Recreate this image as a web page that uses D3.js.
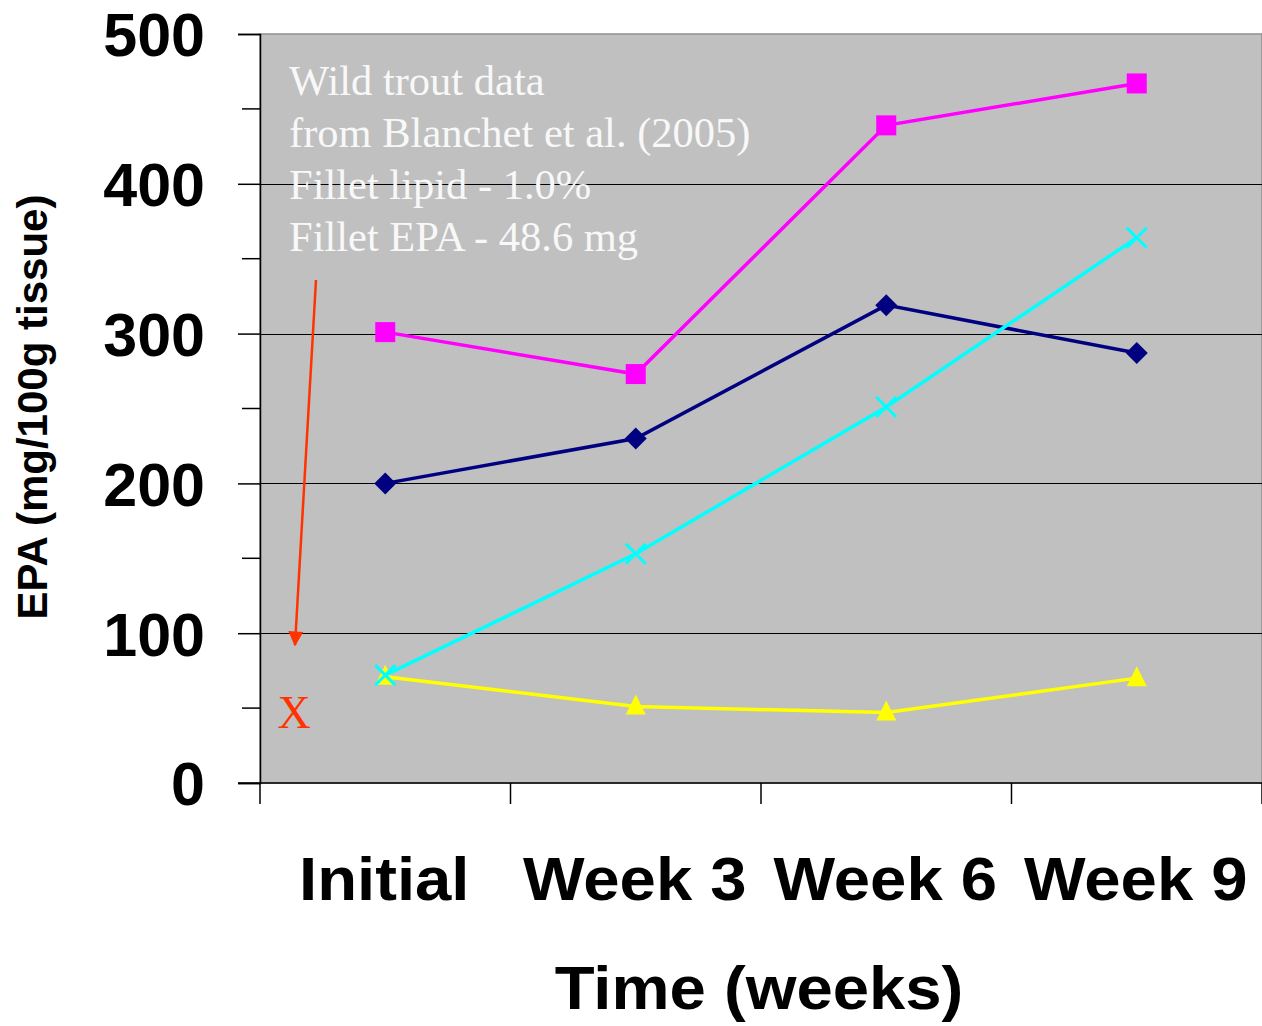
<!DOCTYPE html>
<html><head><meta charset="utf-8">
<script src="https://cdn.jsdelivr.net/npm/d3@7"></script>
<style>html,body{margin:0;padding:0;background:#fff;} svg{display:block;}</style>
</head><body>
<svg id="chart" width="1262" height="1026"></svg>
<script>
const categories = ["Initial", "Week 3", "Week 6", "Week 9"];
const magentaSeries = [301, 273, 439, 467];
const navySeries = [200, 230, 319, 287];
const cyanSeries = [72, 153, 251, 364];
const yellowSeries = [71, 51, 47, 70];
const yMajorTicks = [0, 100, 200, 300, 400, 500];
const yMinorTicks = [50, 150, 250, 350, 450];
const gridValues = [100, 200, 300, 400];
const annotationLines = ["Wild trout data", "from Blanchet et al. (2005)", "Fillet lipid - 1.0%", "Fillet EPA - 48.6 mg"];
const wildValue = 48.6;

const series = [
  {values: yellowSeries, color: "#FFFF00", marker: "triangle"},
  {values: magentaSeries, color: "#FF00FF", marker: "square"},
  {values: navySeries, color: "#000080", marker: "diamond"},
  {values: cyanSeries, color: "#00FFFF", marker: "x"}
];

const svg = d3.select("#chart");
const L = 260, R = 1262, T = 34, B = 783;
const x = d3.scaleBand().domain(categories).range([L, R]).padding(0);
const y = d3.scaleLinear().domain([0, 500]).range([B, T]);
const cx = d => x(d) + x.bandwidth() / 2;
const sans = "Liberation Sans, Arial, sans-serif";
const serif = "Liberation Serif, Times New Roman, serif";

// plot background
svg.append("rect").attr("x", L).attr("y", T).attr("width", R - L).attr("height", B - T)
  .attr("fill", "#C0C0C0").attr("stroke", "#909090").attr("stroke-width", 1.5);

// gridlines
svg.append("g").selectAll("line").data(gridValues).join("line")
  .attr("x1", L).attr("x2", R).attr("y1", d => Math.round(y(d)) + 0.5).attr("y2", d => Math.round(y(d)) + 0.5)
  .attr("stroke", "#000").attr("stroke-width", 1.2);

// y axis
const yAxis = svg.append("g").attr("transform", `translate(${L},0)`)
  .call(d3.axisLeft(y).tickValues(yMajorTicks).tickSize(22).tickPadding(33).tickFormat(d3.format("d")));
yAxis.select(".domain").attr("stroke", "#000").attr("stroke-width", 1.5);
yAxis.selectAll(".tick line").attr("stroke", "#000").attr("stroke-width", 1.5);
yAxis.selectAll(".tick text").attr("font-family", sans)
  .attr("font-weight", "bold").attr("font-size", 61).attr("fill", "#000").attr("dy", "0.36em");
svg.append("g").selectAll("line").data(yMinorTicks).join("line")
  .attr("x1", L - 18).attr("x2", L).attr("y1", d => y(d)).attr("y2", d => y(d))
  .attr("stroke", "#000").attr("stroke-width", 1.5);

// x axis
svg.append("line").attr("x1", L - 22).attr("x2", R).attr("y1", B).attr("y2", B)
  .attr("stroke", "#000").attr("stroke-width", 1.5);
const bounds = categories.map(d => x(d)).concat([x(categories[categories.length - 1]) + x.bandwidth()]);
svg.append("g").selectAll("line").data(bounds).join("line")
  .attr("x1", d => d).attr("x2", d => d).attr("y1", B).attr("y2", B + 21)
  .attr("stroke", "#000").attr("stroke-width", 1.5);
svg.append("g").selectAll("text").data(categories).join("text")
  .attr("text-anchor", "middle")
  .attr("transform", d => `translate(${cx(d) - 1},900) scale(1.07,1)`)
  .attr("font-family", sans).attr("font-weight", "bold")
  .attr("font-size", 61).attr("fill", "#000").text(d => d);

// axis titles
svg.append("text").attr("transform", "translate(759,1009) scale(1.07,1)").attr("text-anchor", "middle")
  .attr("font-family", sans).attr("font-weight", "bold")
  .attr("font-size", 61).text("Time (weeks)");
svg.append("text").attr("transform", "translate(47,407) rotate(-90)").attr("text-anchor", "middle")
  .attr("font-family", sans).attr("font-weight", "bold")
  .attr("font-size", 42).text("EPA (mg/100g tissue)");

// annotation text
svg.append("g").selectAll("text").data(annotationLines).join("text")
  .attr("x", 289).attr("y", (d, i) => 95 + i * 52)
  .attr("font-family", serif)
  .attr("font-size", 42.5).attr("fill", "#F8F8F8").text(d => d);

// lines and markers
const line = d3.line().x((d, i) => cx(categories[i])).y(d => y(d));
series.forEach(s => {
  svg.append("path").datum(s.values).attr("d", line).attr("fill", "none")
    .attr("stroke", s.color).attr("stroke-width", 3.5);
  const g = svg.append("g");
  s.values.forEach((v, i) => {
    const px = cx(categories[i]), py = y(v);
    if (s.marker === "square") {
      g.append("rect").attr("x", px - 10).attr("y", py - 10).attr("width", 20).attr("height", 20).attr("fill", s.color);
    } else if (s.marker === "diamond") {
      g.append("path").attr("d", `M${px},${py - 11}L${px + 11},${py}L${px},${py + 11}L${px - 11},${py}Z`).attr("fill", s.color);
    } else if (s.marker === "triangle") {
      g.append("path").attr("d", `M${px},${py - 12}L${px + 10},${py + 8}L${px - 10},${py + 8}Z`).attr("fill", s.color);
    } else {
      g.append("path").attr("d", `M${px - 10},${py - 10}L${px + 10},${py + 10}M${px + 10},${py - 10}L${px - 10},${py + 10}`)
        .attr("stroke", s.color).attr("stroke-width", 3);
    }
  });
});

// wild trout arrow and marker
svg.append("defs").append("marker").attr("id", "arrow").attr("viewBox", "0 0 10 10")
  .attr("refX", 9).attr("refY", 5).attr("markerWidth", 16).attr("markerHeight", 15)
  .attr("markerUnits", "userSpaceOnUse").attr("orient", "auto")
  .append("path").attr("d", "M0,0L10,5L0,10Z").attr("fill", "#FF3300");
svg.append("line").attr("x1", 316).attr("y1", 280).attr("x2", 295).attr("y2", 645)
  .attr("stroke", "#FF3300").attr("stroke-width", 2.5).attr("marker-end", "url(#arrow)");
svg.append("text").attr("x", 294).attr("y", y(wildValue) + 18).attr("text-anchor", "middle")
  .attr("font-family", serif).attr("font-size", 46)
  .attr("fill", "#FF3300").text("X");
</script>
</body></html>
